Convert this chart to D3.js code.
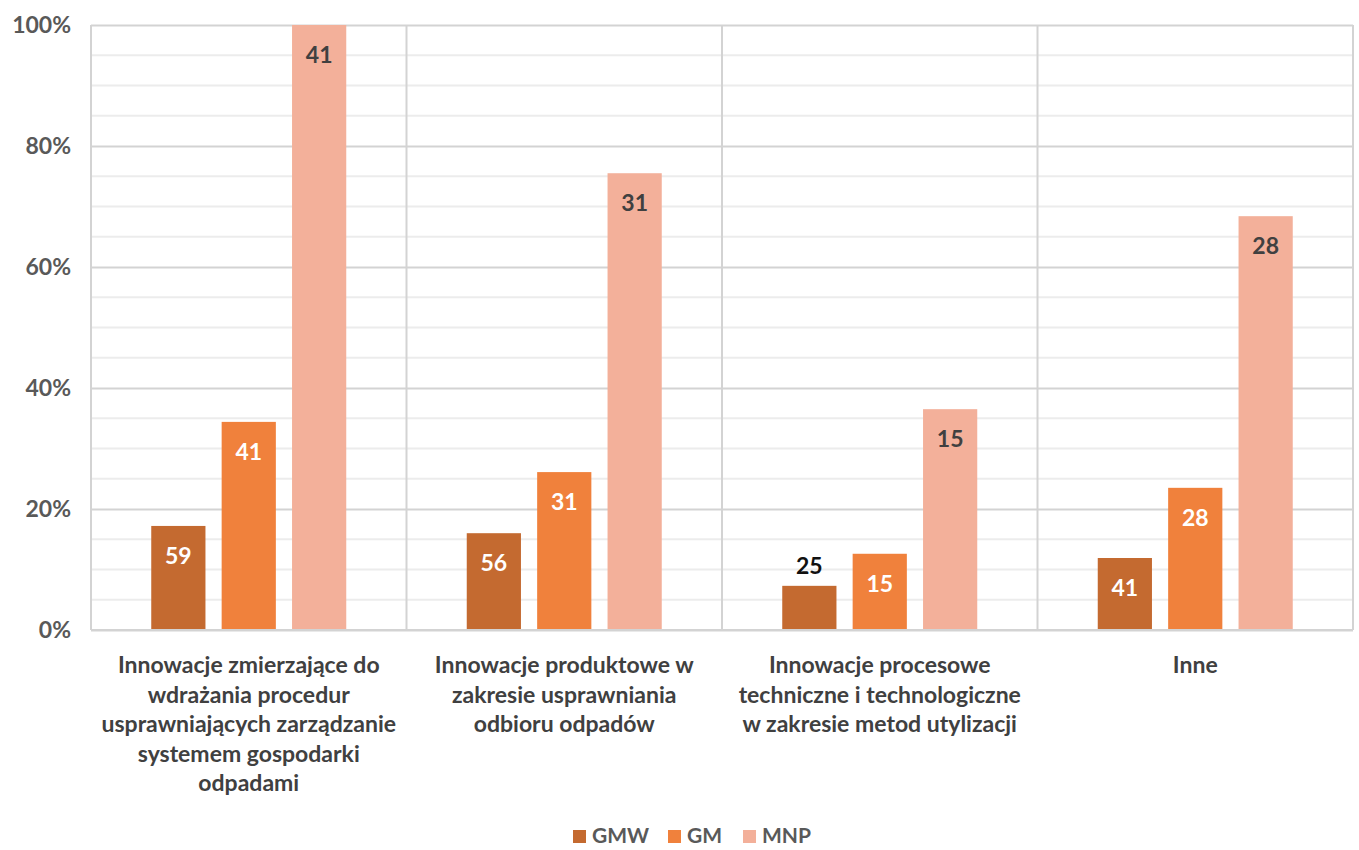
<!DOCTYPE html>
<html>
<head>
<meta charset="utf-8">
<script src="https://cdn.jsdelivr.net/npm/d3@7"></script>
<style>
  body { margin: 0; background: #fff; }
  svg text { font-family: Lato, "Open Sans", sans-serif; }
</style>
</head>
<body>
<div id="chart"></div>
<script>
// data
const categories = ['c1', 'c2', 'c3', 'c4'];
const categoryLabels = [
    ['Innowacje zmierzające do', 'wdrażania procedur', 'usprawniających zarządzanie', 'systemem gospodarki', 'odpadami'],
    ['Innowacje produktowe w', 'zakresie usprawniania', 'odbioru odpadów'],
    ['Innowacje procesowe', 'techniczne i technologiczne', 'w zakresie metod utylizacji'],
    ['Inne']
];
const seriesNames = ['GMW', 'GM', 'MNP'];
const gmwShare = [0.172, 0.160, 0.073, 0.119];
const gmShare = [0.344, 0.261, 0.126, 0.235];
const mnpShare = [1.0, 0.755, 0.365, 0.684];
const gmwCount = [59, 56, 25, 41];
const gmCount = [41, 31, 15, 28];
const mnpCount = [41, 31, 15, 28];
const yTicks = [0, 0.2, 0.4, 0.6, 0.8, 1.0];

const colors = { GMW: '#c46a30', GM: '#f0813c', MNP: '#f3b09a' };
const labelColors = { GMW: '#ffffff', GM: '#ffffff', MNP: '#404040' };

const chart = {
    totalWidth: 1359,
    totalHeight: 850,
    margin: { top: 25, bottom: 220, left: 91, right: 6 }
};
chart.width = chart.totalWidth - chart.margin.left - chart.margin.right;
chart.height = chart.totalHeight - chart.margin.top - chart.margin.bottom;

const rows = categories.map((c, i) => ({
    id: c,
    values: [
        { key: 'GMW', share: gmwShare[i], count: gmwCount[i] },
        { key: 'GM', share: gmShare[i], count: gmCount[i] },
        { key: 'MNP', share: mnpShare[i], count: mnpCount[i] }
    ]
}));

const svg = d3.select('#chart')
    .append('svg')
    .attr('width', chart.totalWidth)
    .attr('height', chart.totalHeight);

const g = svg.append('g')
    .attr('transform', `translate(${chart.margin.left}, ${chart.margin.top})`);

const xScale = d3.scaleBand()
    .domain(categories)
    .range([0, chart.width]);

const xInner = d3.scaleBand()
    .domain(seriesNames)
    .range([0, 195])
    .paddingInner(0.23);

const yScale = d3.scaleLinear()
    .domain([0, 1])
    .range([chart.height, 0]);

// minor gridlines every 5%
g.append('g')
    .selectAll('line')
    .data(d3.range(0, 1.0001, 0.05).filter(v => Math.round(v * 100) % 20 !== 0))
    .enter()
    .append('line')
    .attr('x1', 0)
    .attr('x2', chart.width)
    .attr('y1', d => yScale(d))
    .attr('y2', d => yScale(d))
    .attr('stroke', '#ececec')
    .attr('stroke-width', 2);

// y-axis with major gridlines
const yAxis = d3.axisLeft(yScale)
    .tickValues(yTicks)
    .tickFormat(d3.format('.0%'))
    .tickSize(-chart.width)
    .tickPadding(20);

const yG = g.append('g')
    .classed('y-axis', true)
    .call(yAxis);
yG.select('.domain').remove();
yG.selectAll('line').attr('stroke', '#d3d3d3').attr('stroke-width', 2);
yG.selectAll('text')
    .attr('fill', '#595959')
    .style('font-size', '23px')
    .style('font-weight', 700);

// vertical category dividers
g.append('g')
    .selectAll('line')
    .data(categories.concat(['end']))
    .enter()
    .append('line')
    .attr('x1', (d, i) => i < categories.length ? xScale(d) : chart.width)
    .attr('x2', (d, i) => i < categories.length ? xScale(d) : chart.width)
    .attr('y1', 0)
    .attr('y2', chart.height)
    .attr('stroke', '#d3d3d3')
    .attr('stroke-width', 2);

// bars
const groups = g.append('g')
    .selectAll('g')
    .data(rows)
    .enter()
    .append('g')
    .attr('transform', d => `translate(${xScale(d.id) + (xScale.bandwidth() - 195) / 2}, 0)`);

groups.selectAll('rect')
    .data(d => d.values)
    .enter()
    .append('rect')
    .attr('x', d => xInner(d.key))
    .attr('width', xInner.bandwidth())
    .attr('y', d => yScale(d.share))
    .attr('height', d => chart.height - yScale(d.share))
    .attr('fill', d => colors[d.key]);

// value labels
groups.selectAll('text')
    .data(d => d.values)
    .enter()
    .append('text')
    .attr('x', d => xInner(d.key) + xInner.bandwidth() / 2)
    .attr('y', d => {
        const h = chart.height - yScale(d.share);
        return h < 55 ? yScale(d.share) - 20 : yScale(d.share) + 30;
    })
    .attr('dy', '0.35em')
    .attr('text-anchor', 'middle')
    .style('font-size', '23px')
    .style('font-weight', 700)
    .attr('fill', d => (chart.height - yScale(d.share)) < 55 ? '#111' : labelColors[d.key])
    .text(d => d.count);

// bottom axis line
g.append('line')
    .attr('x1', 0)
    .attr('x2', chart.width)
    .attr('y1', chart.height)
    .attr('y2', chart.height)
    .attr('stroke', '#d3d3d3')
    .attr('stroke-width', 2);

// category labels
const catG = g.append('g')
    .selectAll('text')
    .data(categories)
    .enter()
    .append('text')
    .attr('text-anchor', 'middle')
    .attr('fill', '#404040')
    .style('font-size', '23px')
    .style('font-weight', 700)
    .attr('transform', d => `translate(${xScale(d) + xScale.bandwidth() / 2}, ${chart.height + 43})`);

catG.selectAll('tspan')
    .data((d, i) => categoryLabels[i])
    .enter()
    .append('tspan')
    .attr('x', 0)
    .attr('y', (d, i) => i * 29.5)
    .text(d => d);

// legend
const legend = svg.append('g')
    .attr('transform', 'translate(573, 836)');

const legendX = [0, 95, 170];
const items = legend.selectAll('g')
    .data(seriesNames)
    .enter()
    .append('g')
    .attr('transform', (d, i) => `translate(${legendX[i]}, 0)`);

items.append('rect')
    .attr('x', 0)
    .attr('y', -6)
    .attr('width', 13)
    .attr('height', 13)
    .attr('fill', d => colors[d]);

items.append('text')
    .attr('x', 19)
    .attr('y', 0)
    .attr('dy', '0.35em')
    .attr('fill', '#595959')
    .style('font-size', '21px')
    .style('font-weight', 700)
    .text(d => d);
</script>
</body>
</html>
